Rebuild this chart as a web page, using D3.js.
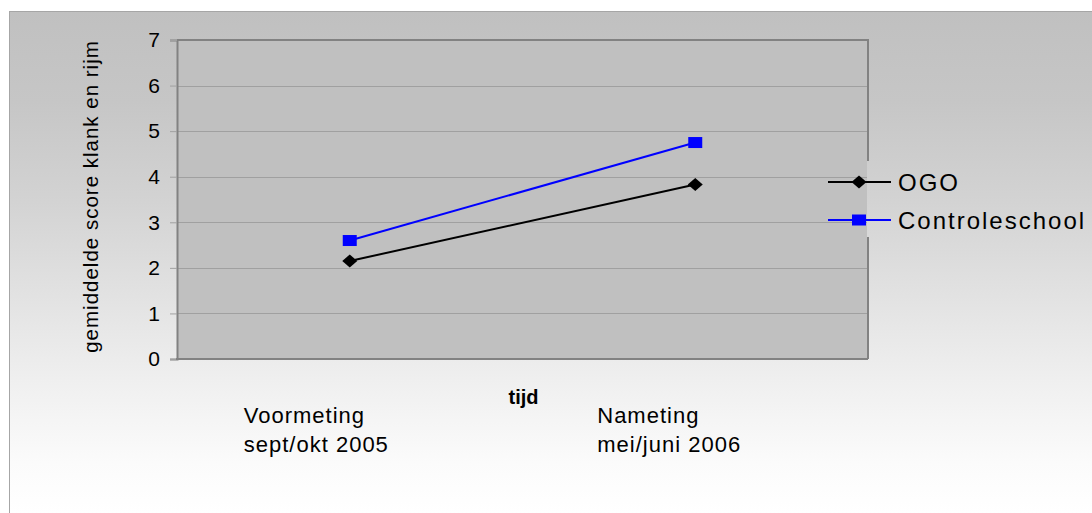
<!DOCTYPE html>
<html>
<head>
<meta charset="utf-8">
<script src="https://cdn.jsdelivr.net/npm/d3@7"></script>
<style>
  html, body { margin: 0; padding: 0; background: #ffffff; }
  svg { display: block; font-family: "Liberation Sans", Arial, sans-serif; }
</style>
</head>
<body>
<svg id="chart" width="1092" height="513"></svg>
<script>
// ---- data ----
const categories = ["Voormeting|sept/okt 2005", "Nameting|mei/juni 2006"];
const seriesNames = ["OGO", "Controleschool"];
const ogoValues = [2.15, 3.83];
const controleValues = [2.6, 4.75];
const yTicks = [0, 1, 2, 3, 4, 5, 6, 7];
const yTitle = "gemiddelde score klank en rijm";
const xTitle = "tijd";

const series = [
  { name: seriesNames[0], values: ogoValues, color: "#000000", shape: "diamond" },
  { name: seriesNames[1], values: controleValues, color: "#0000ff", shape: "square" }
];

// ---- layout ----
const W = 1092, H = 513;
const plot = { left: 177, right: 868, top: 40, bottom: 359 };

const svg = d3.select("#chart");
const defs = svg.append("defs");

const grad = defs.append("linearGradient")
  .attr("id", "bg").attr("gradientUnits", "userSpaceOnUse")
  .attr("x1", 0).attr("y1", 11).attr("x2", 0).attr("y2", 513);
[[0, "#c0c0c0"], [0.18, "#c6c6c6"], [0.38, "#d3d3d3"], [0.58, "#e3e3e3"], [0.72, "#eeeeee"], [0.9, "#fbfbfb"], [1, "#ffffff"]]
  .forEach(([o, c]) => grad.append("stop").attr("offset", o).attr("stop-color", c));

// chart area background + border
svg.append("rect").attr("x", 9.5).attr("y", 11.5).attr("width", W).attr("height", H)
  .attr("fill", "url(#bg)").attr("stroke", "#a6a6a6").attr("stroke-width", 1);

const x = d3.scaleBand().domain(categories).range([plot.left, plot.right]).padding(0);
const xc = c => x(c) + x.bandwidth() / 2;
const y = d3.scaleLinear().domain([0, 7]).range([plot.bottom, plot.top]);

// plot area
svg.append("rect")
  .attr("x", plot.left).attr("y", plot.top)
  .attr("width", plot.right - plot.left).attr("height", plot.bottom - plot.top)
  .attr("fill", "#c0c0c0");

// gridlines
svg.append("g").selectAll("line").data(yTicks.filter(t => t > 0 && t < 7)).join("line")
  .attr("x1", plot.left).attr("x2", plot.right)
  .attr("y1", d => Math.round(y(d)) + 0.5).attr("y2", d => Math.round(y(d)) + 0.5)
  .attr("stroke", "#a0a0a0").attr("stroke-width", 1);

// plot border (top + right)
svg.append("path")
  .attr("d", `M${plot.left},${plot.top} H${plot.right} V${plot.bottom}`)
  .attr("fill", "none").attr("stroke", "#828282").attr("stroke-width", 2);

// y axis
const yAxis = d3.axisLeft(y).tickValues(yTicks).tickSize(7).tickPadding(10).tickFormat(d3.format("d"));
const gy = svg.append("g").attr("transform", `translate(${plot.left},0)`).call(yAxis);
gy.select(".domain").attr("stroke", "#828282").attr("stroke-width", 2);
gy.selectAll(".tick line").attr("stroke", "#a0a0a0");
gy.selectAll(".tick text").attr("font-size", 21).attr("fill", "#000")
  .attr("font-family", "Liberation Sans, Arial, sans-serif");

// x baseline
svg.append("line").attr("x1", plot.left - 1).attr("x2", plot.right)
  .attr("y1", y(0)).attr("y2", y(0))
  .attr("stroke", "#828282").attr("stroke-width", 2);

// y title
svg.append("text")
  .attr("transform", `translate(98,${(plot.top + plot.bottom) / 2 - 3}) rotate(-90)`)
  .attr("text-anchor", "middle").attr("font-size", 20.5).attr("letter-spacing", 1)
  .attr("fill", "#000").text(yTitle);

// x title
svg.append("text").attr("x", (plot.left + plot.right) / 2 + 1).attr("y", 404)
  .attr("text-anchor", "middle").attr("font-size", 20).attr("font-weight", "bold")
  .attr("fill", "#000").text(xTitle);

// category labels
const catG = svg.append("g");
categories.forEach((c, i) => {
  const lines = c.split("|");
  const lx = xc(c) - 102 - (i === 0 ? 4 : -4);
  const t = catG.append("text")
    .attr("x", lx).attr("y", 423).attr("font-size", 22).attr("letter-spacing", 1).attr("fill", "#000");
  lines.forEach((l, j) => t.append("tspan").attr("x", lx)
    .attr("dy", j === 0 ? 0 : 29).text(l));
});

// markers
function drawMarker(g, shape, cx, cy, color) {
  if (shape === "diamond") {
    g.append("path")
      .attr("d", `M${cx - 7.5},${cy} L${cx},${cy - 6.5} L${cx + 7.5},${cy} L${cx},${cy + 6.5} Z`)
      .attr("fill", color);
  } else {
    g.append("rect").attr("x", cx - 7).attr("y", cy - 5.5)
      .attr("width", 14).attr("height", 11).attr("fill", color);
  }
}

const line = d3.line().x((d, i) => xc(categories[i])).y(d => y(d));
const sg = svg.append("g");
series.forEach(s => {
  sg.append("path").datum(s.values).attr("d", line)
    .attr("fill", "none").attr("stroke", s.color).attr("stroke-width", 2);
  s.values.forEach((v, i) => drawMarker(sg, s.shape, xc(categories[i]), y(v), s.color));
});

// legend
const legend = svg.append("g");
legend.append("rect").attr("x", plot.right - 1).attr("y", 161).attr("width", W - plot.right + 1)
  .attr("height", 76).attr("fill", "url(#bg)");
series.forEach((s, i) => {
  const ly = 182 + i * 38;
  legend.append("line").attr("x1", 828).attr("x2", 891).attr("y1", ly).attr("y2", ly)
    .attr("stroke", s.color).attr("stroke-width", 2);
  drawMarker(legend, s.shape, 859, ly, s.color);
  legend.append("text").attr("x", 898).attr("y", ly + 8.5)
    .attr("font-size", 24).attr("letter-spacing", 2).attr("fill", "#000").text(s.name);
});
</script>
</body>
</html>
